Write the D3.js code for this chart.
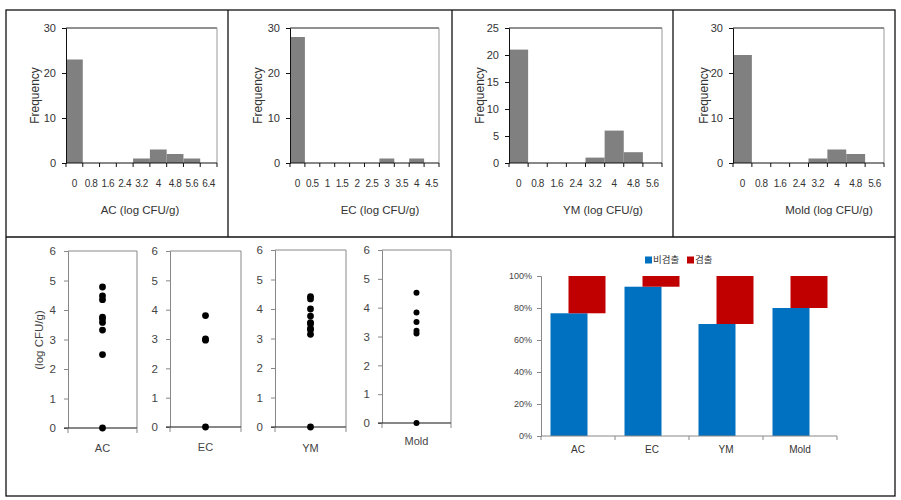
<!DOCTYPE html>
<html>
<head>
<meta charset="utf-8">
<script src="https://cdn.jsdelivr.net/npm/d3@7"></script>
<style>
  html, body { margin: 0; padding: 0; background: #fff; }
  svg { display: block; font-family: "Liberation Sans", Arial, sans-serif; }
</style>
</head>
<body>
<svg id="chart" width="901" height="500"></svg>
<script>
// ---------------- DATA ----------------
const histBinsAC   = ["0","0.8","1.6","2.4","3.2","4","4.8","5.6","6.4"];
const histFreqAC   = [23,0,0,0,1,3,2,1,0];
const histBinsEC   = ["0","0.5","1","1.5","2","2.5","3","3.5","4","4.5"];
const histFreqEC   = [28,0,0,0,0,0,1,0,1,0];
const histBinsYM   = ["0","0.8","1.6","2.4","3.2","4","4.8","5.6"];
const histFreqYM   = [21,0,0,0,1,6,2,0];
const histBinsMold = ["0","0.8","1.6","2.4","3.2","4","4.8","5.6"];
const histFreqMold = [24,0,0,0,1,3,2,0];

const dotsAC   = [4.78,4.48,4.35,3.76,3.7,3.58,3.32,2.49,0];
const dotsEC   = [3.8,3.0,2.96,0];
const dotsYM   = [4.42,4.34,4.0,3.76,3.54,3.5,3.34,3.3,3.14,0];
const dotsMold = [4.52,3.83,3.5,3.2,3.1,0];

const barCats       = ["AC","EC","YM","Mold"];
const notDetected   = [0.767,0.933,0.70,0.80];
const detected      = [0.233,0.067,0.30,0.20];
const legendLabels  = ["비검출","검출"];
const pctTicks      = [0,0.2,0.4,0.6,0.8,1.0];

// ---------------- DRAW ----------------
const svg = d3.select("#chart");
const textColor = "#333";

// frame
const frame = svg.append("g").attr("fill","none").attr("stroke","#111").attr("stroke-width",1.3);
frame.append("rect").attr("x",6).attr("y",10).attr("width",889).attr("height",486);
frame.append("line").attr("x1",6).attr("x2",895).attr("y1",237).attr("y2",237);
[228,452,673].forEach(x => frame.append("line").attr("x1",x).attr("x2",x).attr("y1",10).attr("y2",237));

// histograms
const hists = [
  {bins:histBinsAC,   freq:histFreqAC,   title:"AC (log CFU/g)",   left:66,  right:217, ymax:30, step:10, ylabX:35,  titleX:140},
  {bins:histBinsEC,   freq:histFreqEC,   title:"EC (log CFU/g)",   left:290, right:439, ymax:30, step:10, ylabX:258, titleX:380},
  {bins:histBinsYM,   freq:histFreqYM,   title:"YM (log CFU/g)",   left:509, right:662, ymax:25, step:5,  ylabX:480, titleX:603},
  {bins:histBinsMold, freq:histFreqMold, title:"Mold (log CFU/g)", left:733, right:884, ymax:30, step:10, ylabX:704, titleX:829}
];
const hTop = 28, hBot = 163;

hists.forEach(h => {
  const g = svg.append("g");
  const x = d3.scaleBand().domain(h.bins).range([h.left, h.right]).padding(0);
  const y = d3.scaleLinear().domain([0, h.ymax]).range([hBot, hTop]);

  g.selectAll("rect.bar").data(h.bins.map((b,i)=>({b, v:h.freq[i]})).filter(d=>d.v>0))
    .join("rect").attr("class","bar")
    .attr("x", d => x(d.b)).attr("width", x.bandwidth())
    .attr("y", d => y(d.v)).attr("height", d => y(0)-y(d.v))
    .attr("fill","#808080");

  g.append("line").attr("x1",h.left).attr("x2",h.right).attr("y1",hTop).attr("y2",hTop).attr("stroke","#222");
  g.append("line").attr("x1",h.right).attr("x2",h.right).attr("y1",hTop).attr("y2",hBot).attr("stroke","#999");

  const ya = g.append("g").attr("transform",`translate(${h.left},0)`)
    .call(d3.axisLeft(y).tickValues(d3.range(0,h.ymax+1,h.step)).tickSize(4).tickPadding(6));
  ya.select(".domain").attr("stroke","#111");
  ya.selectAll(".tick line").attr("stroke","#111");
  ya.selectAll("text").attr("font-size",11).attr("fill",textColor);

  const bounds = h.bins.map(b => x(b)).concat([h.right]);
  g.append("line").attr("x1",h.left).attr("x2",h.right).attr("y1",hBot).attr("y2",hBot).attr("stroke","#111");
  g.selectAll("line.xt").data(bounds).join("line").attr("class","xt")
    .attr("x1",d=>d).attr("x2",d=>d).attr("y1",hBot).attr("y2",hBot+4).attr("stroke","#111");
  g.selectAll("text.xl").data(h.bins).join("text").attr("class","xl")
    .attr("x", d => x(d)+x.bandwidth()/2).attr("y",187)
    .attr("text-anchor","middle").attr("font-size",10).attr("letter-spacing",-0.4).attr("fill",textColor)
    .text(d=>d);

  g.append("text").attr("transform",`translate(${h.ylabX},${(hTop+hBot)/2}) rotate(-90)`)
    .attr("text-anchor","middle").attr("dy","0.35em").attr("font-size",12).attr("fill",textColor).text("Frequency");
  g.append("text").attr("x",h.titleX).attr("y",214).attr("text-anchor","middle")
    .attr("font-size",11.5).attr("fill",textColor).text(h.title);
});

// dot plots
const dots = [
  {name:"AC",   vals:dotsAC,   left:68,  right:137, top:251, bot:428, labY:452, r:3.4},
  {name:"EC",   vals:dotsEC,   left:170, right:241, top:251, bot:427, labY:451, r:3.4},
  {name:"YM",   vals:dotsYM,   left:275, right:346, top:250, bot:427, labY:452, r:3.4},
  {name:"Mold", vals:dotsMold, left:382, right:451, top:250, bot:423, labY:445, r:3.0}
];
dots.forEach(p => {
  const g = svg.append("g");
  const x = d3.scaleBand().domain([p.name]).range([p.left,p.right]);
  const y = d3.scaleLinear().domain([0,6]).range([p.bot,p.top]);
  g.append("line").attr("x1",p.left).attr("x2",p.right).attr("y1",p.top).attr("y2",p.top).attr("stroke","#888");
  g.append("line").attr("x1",p.right).attr("x2",p.right).attr("y1",p.top).attr("y2",p.bot).attr("stroke","#888");
  const ya = g.append("g").attr("transform",`translate(${p.left},0)`)
    .call(d3.axisLeft(y).tickValues(d3.range(0,7)).tickFormat(d3.format("d")).tickSize(4).tickPadding(8));
  ya.select(".domain").attr("stroke","#888");
  ya.selectAll(".tick line").attr("stroke","#888");
  ya.selectAll("text").attr("font-size",11.5).attr("fill","#444");
  g.append("line").attr("x1",p.left-4).attr("x2",p.right).attr("y1",p.bot).attr("y2",p.bot).attr("stroke","#111");
  [p.left,p.right].forEach(xx => g.append("line").attr("x1",xx).attr("x2",xx).attr("y1",p.bot).attr("y2",p.bot+5).attr("stroke","#888"));
  g.selectAll("circle").data(p.vals).join("circle")
    .attr("cx", x(p.name)+x.bandwidth()/2).attr("cy", d=>y(d)).attr("r",p.r).attr("fill","#000");
  g.append("text").attr("x",x(p.name)+x.bandwidth()/2).attr("y",p.labY).attr("text-anchor","middle")
    .attr("font-size",11).attr("fill","#444").text(p.name);
});
svg.append("text").attr("transform","translate(39,340) rotate(-90)").attr("text-anchor","middle").attr("dy","0.35em")
  .attr("font-size",11.5).attr("fill","#444").text("(log CFU/g)");

// overlapped stacked bar chart
(function(){
  const g = svg.append("g");
  const L = 541, R = 837, T = 276, B = 436;
  const x = d3.scaleBand().domain(barCats).range([L,R]);
  const y = d3.scaleLinear().domain([0,1]).range([B,T]);
  const bw = 37, grp = 55, off = (x.bandwidth()-grp)/2;
  const blue = "#0070C0", red = "#C00000";

  g.selectAll("rect.nd").data(barCats).join("rect").attr("class","nd")
    .attr("x", d => x(d)+off).attr("width", bw)
    .attr("y", (d,i)=>y(notDetected[i])).attr("height",(d,i)=>y(0)-y(notDetected[i]))
    .attr("fill",blue);
  g.selectAll("rect.d").data(barCats).join("rect").attr("class","d")
    .attr("x", d => x(d)+off+grp-bw).attr("width", bw)
    .attr("y", (d,i)=>y(notDetected[i]+detected[i])).attr("height",(d,i)=>y(notDetected[i])-y(notDetected[i]+detected[i]))
    .attr("fill",red);

  const ya = g.append("g").attr("transform",`translate(${L},0)`)
    .call(d3.axisLeft(y).tickValues(pctTicks).tickFormat(d3.format(".0%")).tickSize(4).tickPadding(5));
  ya.select(".domain").attr("stroke","#888");
  ya.selectAll(".tick line").attr("stroke","#888");
  ya.selectAll("text").attr("font-size",9).attr("fill","#444");

  g.append("line").attr("x1",L).attr("x2",R).attr("y1",B).attr("y2",B).attr("stroke","#888");
  const bounds = barCats.map(c=>x(c)).concat([R]);
  g.selectAll("line.xt").data(bounds).join("line").attr("class","xt")
    .attr("x1",d=>d).attr("x2",d=>d).attr("y1",B).attr("y2",B+4).attr("stroke","#888");
  g.selectAll("text.xl").data(barCats).join("text").attr("class","xl")
    .attr("x",d=>x(d)+x.bandwidth()/2).attr("y",453).attr("text-anchor","middle")
    .attr("font-size",10).attr("fill","#333").text(d=>d);

  const lg = g.append("g").attr("font-family","'Noto Sans CJK KR', sans-serif");
  const items = [{t:legendLabels[0], c:blue, x:645},{t:legendLabels[1], c:red, x:687}];
  items.forEach(it => {
    lg.append("rect").attr("x",it.x).attr("y",256.5).attr("width",7).attr("height",7).attr("fill",it.c);
    lg.append("text").attr("x",it.x+8).attr("y",260).attr("dy","0.35em").attr("font-size",9.5).attr("fill","#333").text(it.t);
  });
})();
</script>
</body>
</html>
